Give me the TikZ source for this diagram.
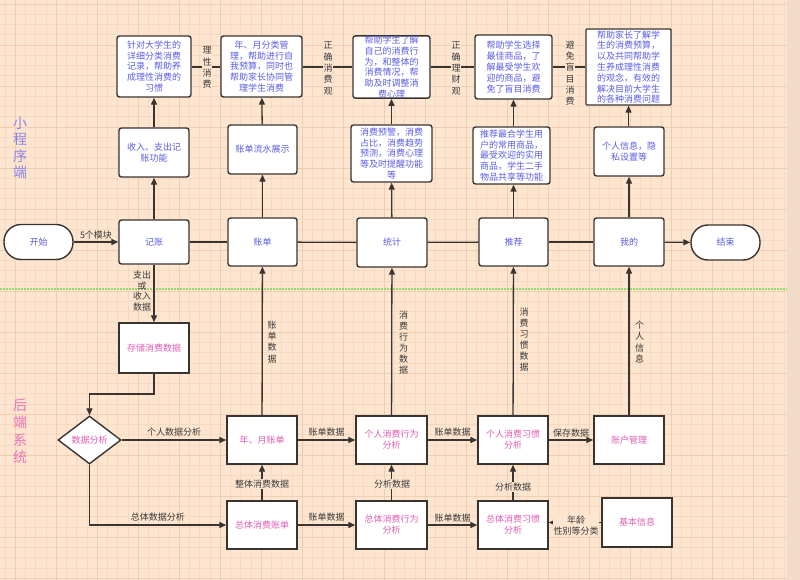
\documentclass[tikz,border=0pt]{standalone}
\usepackage{fontspec}
\setmainfont{Noto Sans CJK SC}
\usetikzlibrary{arrows.meta,shapes.geometric}
\definecolor{bg}{HTML}{FDE5CF}
\definecolor{gridminor}{HTML}{F6D9C1}
\definecolor{gridmajor}{HTML}{EFCDB2}
\definecolor{strip}{HTML}{F3DBC9}
\definecolor{ln}{HTML}{3A3431}
\definecolor{bluetxt}{HTML}{5A5CE6}
\definecolor{pinktxt}{HTML}{E45CB4}
\definecolor{lbl}{HTML}{3A3A3A}
\definecolor{greendot}{HTML}{8EDB6E}
\definecolor{sidepurple}{HTML}{8C84E8}
\definecolor{sidepink}{HTML}{EC74B8}
\tikzset{
  box/.style={draw=ln, line width=1.4pt, fill=white, rounded corners=2.5pt, inner sep=0pt,
    align=center, font=\fontsize{9}{10.8}\selectfont, text=bluetxt},
  pbox/.style={draw=ln, line width=1.4pt, fill=white, inner sep=0pt,
    align=center, font=\fontsize{9}{11}\selectfont, text=pinktxt},
  pill/.style={box, rounded corners=17pt},
  conn/.style={draw=ln, line width=1.3pt},
  arr/.style={conn, -{Triangle[length=7pt,width=6pt]}},
  lab/.style={font=\fontsize{9}{11}\selectfont, text=lbl, inner sep=0.5pt, align=center},
  vlab/.style={lab, font=\fontsize{9}{11.3}\selectfont},
  flab/.style={lab, fill=bg},
}
\begin{document}
\begin{tikzpicture}[x=1pt,y=-1pt]
\useasboundingbox (0,0) rectangle (800,580);
% background
\fill[bg] (0,0) rectangle (800,580);
\fill[strip] (787,0) rectangle (800,580);
\foreach \k in {-2,...,75} \draw[gridminor, line width=0.5pt] ({15+10.25*\k},0) -- ({15+10.25*\k},580);
\foreach \k in {0,...,56} \draw[gridminor, line width=0.5pt] (0,{4+10.25*\k}) -- (787,{4+10.25*\k});
\foreach \k in {0,...,18} \draw[gridmajor, line width=0.6pt] ({15+41*\k},0) -- ({15+41*\k},580);
\foreach \k in {0,...,14} \draw[gridmajor, line width=0.6pt] (0,{4+41*\k}) -- (787,{4+41*\k});
\draw[greendot, line width=1.3pt, dash pattern=on 1.5pt off 1.5pt] (0,289) -- (787,289);

% side titles
\node[align=center, font=\fontsize{14}{16.5}\selectfont, text=sidepurple] (side1) at (20,148) {小\\程\\序\\端};
\node[align=center, font=\fontsize{14}{17.5}\selectfont, text=sidepink] (side2) at (20,431) {后\\端\\系\\统};

% top row
\node[box, minimum width=74pt, minimum height=61pt] (t1) at (154,66.5) {针对大学生的\\详细分类消费\\记录，帮助养\\成理性消费的\\习惯};
\node[box, minimum width=81pt, minimum height=61pt] (t2) at (261.5,66.5) {年、月分类管\\理，帮助进行自\\我预算，同时也\\帮助家长协同管\\理学生消费};
\node[box, minimum width=77pt, minimum height=62pt] (t3) at (391.5,67) {帮助学生了解\\自己的消费行\\为，和整体的\\消费情况，帮\\助及时调整消\\费心理};
\node[box, minimum width=77pt, minimum height=64pt] (t4) at (513.5,67) {帮助学生选择\\最佳商品，了\\解最受学生欢\\迎的商品，避\\免了盲目消费};
\node[box, minimum width=85pt, minimum height=76pt, rounded corners=1pt] (t5) at (628.5,67) {帮助家长了解学\\生的消费预算，\\以及共同帮助学\\生养成理性消费\\的观念，有效的\\解决目前大学生\\的各种消费问题};

% second row
\node[box, minimum width=70pt, minimum height=49pt] (s1) at (154,152.5) {收入、支出记\\账功能};
\node[box, minimum width=69pt, minimum height=49pt] (s2) at (262.5,149.5) {账单流水展示};
\node[box, minimum width=81pt, minimum height=57pt] (s3) at (391.5,153.5) {消费预警，消费\\占比，消费趋势\\预测，消费心理\\等及时提醒功能\\等};
\node[box, minimum width=77pt, minimum height=57pt, align=left] (s4) at (511.5,155.5) {推荐最合学生用\\户的常用商品，\\最受欢迎的实用\\商品，学生二手\\物品共享等功能};
\node[box, minimum width=70pt, minimum height=49pt] (s5) at (629,151.5) {个人信息，隐\\私设置等};

% main row
\node[pill, minimum width=69pt, minimum height=35pt] (start) at (38.5,242) {开始};
\node[box, minimum width=70pt, minimum height=44pt] (rec) at (154,242) {记账};
\node[box, minimum width=69pt, minimum height=48pt] (bill) at (262.5,242) {账单};
\node[box, minimum width=70pt, minimum height=49pt] (stat) at (392,242.5) {统计};
\node[box, minimum width=69pt, minimum height=48pt] (recm) at (513.5,242) {推荐};
\node[box, minimum width=70pt, minimum height=48pt] (mine) at (629,242) {我的};
\node[pill, minimum width=69pt, minimum height=35pt] (end) at (725.5,242.5) {结束};

% bottom
\node[pbox, minimum width=70pt, minimum height=50pt] (store) at (154,348) {存储消费数据};
\node[pbox, diamond, aspect=1.31, minimum width=63pt, minimum height=48pt] (diam) at (89.5,440) {数据分析};
\node[pbox, minimum width=70pt, minimum height=48pt] (ym) at (262,440) {年、月账单};
\node[pbox, minimum width=70pt, minimum height=48pt] (tot) at (262,525) {总体消费账单};
\node[pbox, minimum width=71pt, minimum height=48pt] (pb) at (391.5,440) {个人消费行为\\分析};
\node[pbox, minimum width=71pt, minimum height=48pt] (tb) at (391.5,525) {总体消费行为\\分析};
\node[pbox, minimum width=70pt, minimum height=48pt] (ph) at (513,440) {个人消费习惯\\分析};
\node[pbox, minimum width=70pt, minimum height=48pt] (th) at (513,525) {总体消费习惯\\分析};
\node[pbox, minimum width=70pt, minimum height=48pt] (acct) at (629,440) {账户管理};
\node[pbox, minimum width=70pt, minimum height=49pt] (basic) at (637,522.5) {基本信息};

% top connectors
\draw[conn] (t1.east |- 0,67) -- (t2.west |- 0,67);
\draw[conn] (t2.east |- 0,67) -- (t3.west |- 0,67);
\draw[conn] (t3.east |- 0,67) -- (t4.west |- 0,67);
\draw[conn] (t4.east |- 0,67) -- (t5.west |- 0,67);
\node[vlab, fill=bg] (l1) at (207,67.5) {理\\性\\消\\费};
\node[vlab, fill=bg] (l2) at (328,68.5) {正\\确\\消\\费\\观};
\node[vlab, fill=bg] (l3) at (456,68.5) {正\\确\\理\\财\\观};
\node[vlab, fill=bg] (l4) at (570,73) {避\\免\\盲\\目\\消\\费};

% up arrows
\draw[arr] (s1) -- (t1);
\draw[arr] (s2) -- (t2);
\draw[arr] (s3) -- (t3);
\draw[arr] (s4.north -| t4) -- (t4);
\draw[arr] (s5.north -| t5) -- (t5);
\draw[arr] (rec) -- (s1);
\draw[arr] (bill) -- (s2);
\draw[arr] (stat) -- (s3);
\draw[arr] (recm.north) -- (recm.north |- s4.south);
\draw[arr] (mine) -- (s5);

% main row
\draw[arr] (start) -- node[lab, above=2pt] {5个模块} (rec);
\draw[conn] (rec) -- (bill);
\draw[conn] (bill) -- (stat);
\draw[conn] (stat) -- (recm);
\draw[conn] (recm) -- (mine);
\draw[arr] (mine) -- (end);

% bottom connectors
\draw[arr] (rec) -- (store);
\node[lab, font=\fontsize{9}{10.7}\selectfont] (l5) at (142,291) {支出\\或\\收入\\数据};
\draw[arr] (store.south) -- (154,394) -| (diam.north);
\draw[arr] (diam.east) -- node[lab, above=3pt] {个人数据分析} (ym.west);
\draw[arr] (diam.south) |- node[lab, above=3pt, pos=0.75] {总体数据分析} (tot.west);
\draw[arr] (tot) -- (ym);
\node[flab] (l6) at (262,484) {整体消费数据};
\draw[arr] (ym) -- (bill);
\node[vlab] (l7) at (272,342) {账\\单\\数\\据};
\draw[arr] (ym) -- node[lab, above=3pt] {账单数据} (pb);
\draw[arr] (tot) -- node[lab, above=3pt] {账单数据} (tb);
\draw[arr] (tb) -- (pb);
\node[flab] (l8) at (392,484) {分析数据};
\draw[arr] (pb) -- (stat);
\node[vlab, font=\fontsize{9}{11}\selectfont] (l9) at (403.5,343) {消\\费\\行\\为\\数\\据};
\draw[arr] (pb) -- node[lab, above=3pt] {账单数据} (ph);
\draw[arr] (tb) -- node[lab, above=2pt] {账单数据} (th);
\draw[arr] (th) -- (ph);
\node[flab] (l10) at (513,487) {分析数据};
\draw[arr] (ph) -- (recm);
\node[vlab, font=\fontsize{9}{11}\selectfont] (l11) at (524,340) {消\\费\\习\\惯\\数\\据};
\draw[arr] (ph) -- node[lab, above=2pt] {保存数据} (acct);
\draw[arr] (acct) -- (mine);
\node[vlab] (l12) at (639.5,342) {个\\人\\信\\息};
\draw[arr] (basic.west) -- (th.east |- basic.west);
\node[lab, fill=bg, font=\fontsize{9}{11}\selectfont] (l13) at (576,525.5) {年龄\\性别等分类};
\end{tikzpicture}
\end{document}
